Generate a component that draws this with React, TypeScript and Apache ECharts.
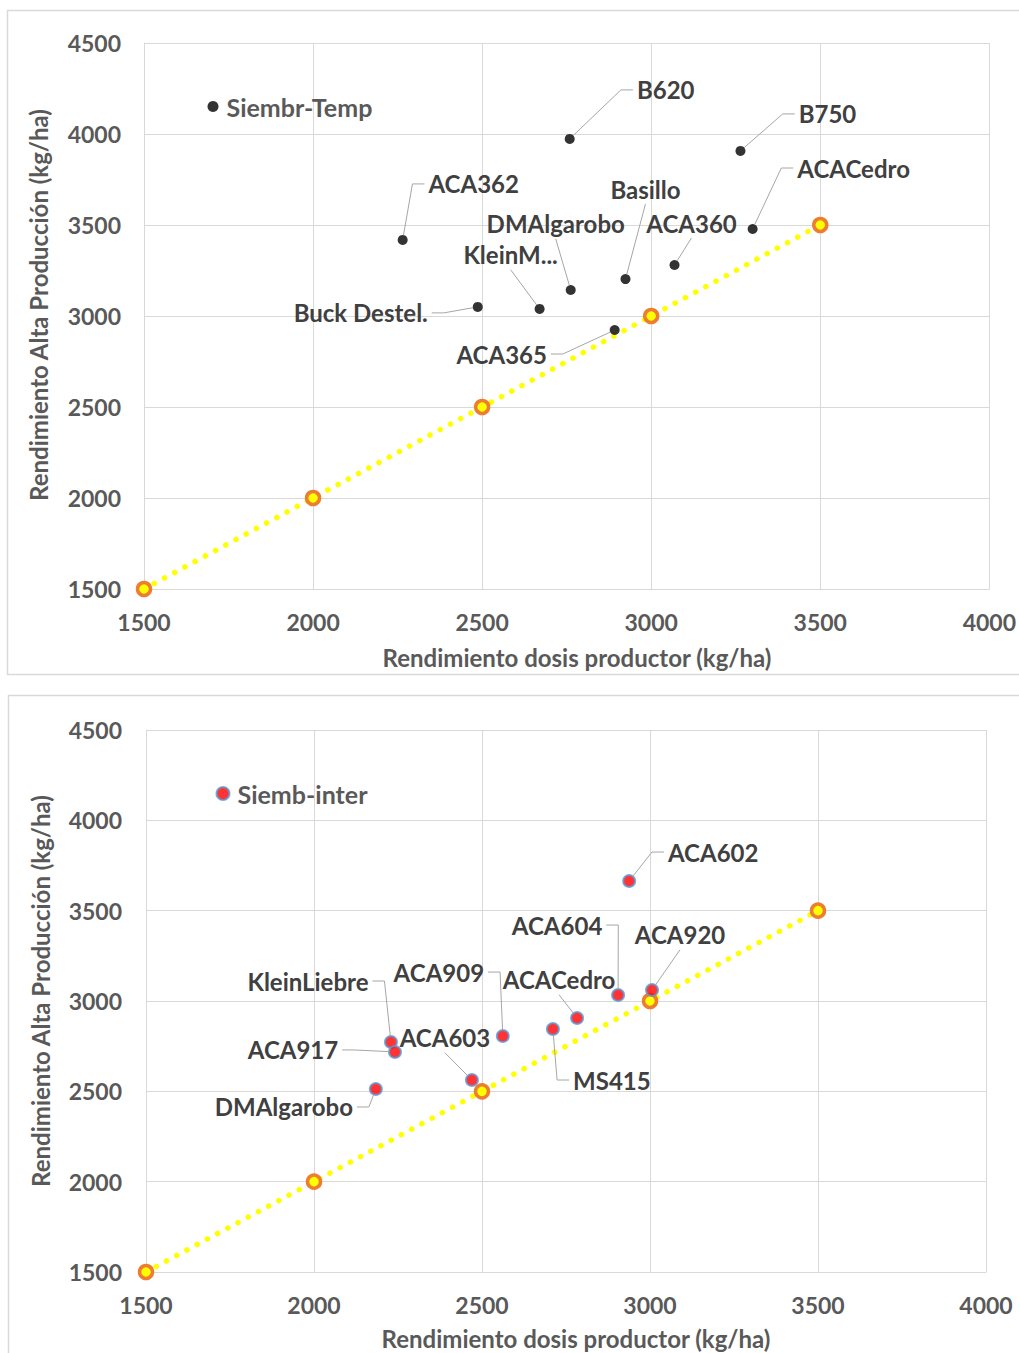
import React, { useEffect, useRef } from "react";
import * as echarts from "echarts";

// ---- data ----
const topNames = ["B620", "B750", "ACACedro", "ACA360", "Basillo", "DMAlgarobo", "KleinM...", "Buck Destel.", "ACA362", "ACA365"];
const topX = [2759, 3264, 3300, 3069, 2924, 2762, 2670, 2487, 2265, 2892];
const topY = [3973, 3907, 3478, 3280, 3203, 3143, 3039, 3050, 3418, 2923];

const botNames = ["ACA602", "ACA604", "ACA920", "ACACedro", "ACA909", "MS415", "ACA603", "KleinLiebre", "ACA917", "DMAlgarobo"];
const botX = [2938, 2905, 3006, 2783, 2562, 2711, 2470, 2229, 2241, 2184];
const botY = [3664, 3033, 3061, 2906, 2806, 2845, 2563, 2773, 2718, 2513];

const refValues = [1500, 2000, 2500, 3000, 3500];

const topSeriesName = "Siembr-Temp";
const botSeriesName = "Siemb-inter";
const xTitle = "Rendimiento dosis productor (kg/ha)";
const yTitle = "Rendimiento Alta Producción (kg/ha)";

// ---- label placement (offset of label centre from its point, px) ----
const topOffsets = [[96, -49], [87, -37], [101, -61], [17, -42], [20, -90], [-15, -66], [-29, -54], [-117, 6], [71, -56], [-113, 24]];
const botOffsets = [[84, -29], [-61, -70], [28, -55], [-18, -38], [-64, -64], [59, 51], [-27, -42], [-83, -61], [-102, -2], [-92, 18]];

const FONT = "Lato";
const GRID_COLOR = "#d9d9d9";
const TICK_COLOR = "#595959";
const LABEL_COLOR = "#404040";
const LABEL_SIZE = 24;

let measureCtx: CanvasRenderingContext2D | null = null;
function textWidth(t: string): number {
  if (!measureCtx) measureCtx = document.createElement("canvas").getContext("2d");
  if (!measureCtx) return t.length * LABEL_SIZE * 0.55;
  measureCtx.font = `bold ${LABEL_SIZE}px ${FONT}`;
  return measureCtx.measureText(t).width;
}

function labelRenderer(names: string[], offsets: number[][], r: number) {
  return (params: any, api: any) => {
    const i = params.dataIndex;
    const p = api.coord([api.value(0), api.value(1)]);
    const cx = p[0];
    const cy = p[1];
    const off = offsets[i] || [0, 0];
    const lx = cx + off[0];
    const ly = cy + off[1];
    const text = names[i];
    const w = textWidth(text);
    const h = LABEL_SIZE * 0.9;
    const left = lx - w / 2;
    const right = lx + w / 2;
    const top = ly - h / 2;
    const bottom = ly + h / 2;
    const toward = (tx: number, ty: number) => {
      const dx = tx - cx;
      const dy = ty - cy;
      const d = Math.sqrt(dx * dx + dy * dy) || 1;
      return [cx + (dx / d) * r, cy + (dy / d) * r];
    };
    let pts: number[][];
    if (left > cx + 4) {
      const e = [left - 16, ly];
      pts = [toward(e[0], e[1]), e, [left - 4, ly]];
    } else if (right < cx - 4) {
      const e = [right + 16, ly];
      pts = [toward(e[0], e[1]), e, [right + 4, ly]];
    } else if (ly < cy) {
      const e = [lx, bottom + 4];
      pts = [toward(e[0], e[1]), e];
    } else {
      const e = [lx, top - 4];
      pts = [toward(e[0], e[1]), e];
    }
    return {
      type: "group",
      children: [
        {
          type: "polyline",
          shape: { points: pts },
          style: { stroke: "#a6a6a6", lineWidth: 1, fill: "none" },
          silent: true,
        },
        {
          type: "text",
          x: lx,
          y: ly,
          style: {
            text,
            fill: LABEL_COLOR,
            fontSize: LABEL_SIZE,
            fontWeight: "bold",
            fontFamily: FONT,
            align: "center",
            verticalAlign: "middle",
          },
        },
      ],
    };
  };
}

function axisX(gridIndex: number) {
  return {
    type: "value",
    gridIndex,
    min: 1500,
    max: 4000,
    interval: 500,
    axisLine: { show: true, lineStyle: { color: GRID_COLOR, width: 1 } },
    axisTick: { show: false },
    splitLine: { show: true, showMaxLine: true, showMinLine: true, lineStyle: { color: GRID_COLOR, width: 1 } },
    axisLabel: { fontSize: 23, fontWeight: "bold", color: TICK_COLOR, fontFamily: FONT, margin: 21, formatter: (v: number) => String(v) },
  };
}

function axisY(gridIndex: number, margin: number) {
  return {
    type: "value",
    gridIndex,
    min: 1500,
    max: 4500,
    interval: 500,
    axisLine: { show: true, lineStyle: { color: GRID_COLOR, width: 1 } },
    axisTick: { show: false },
    splitLine: { show: true, showMaxLine: true, showMinLine: true, lineStyle: { color: GRID_COLOR, width: 1 } },
    axisLabel: { fontSize: 23, fontWeight: "bold", color: TICK_COLOR, fontFamily: FONT, margin, formatter: (v: number) => String(v) },
  };
}

function refSeries(idx: number) {
  return {
    type: "line",
    name: "ref" + idx,
    xAxisIndex: idx,
    yAxisIndex: idx,
    data: refValues.map((v) => [v, v]),
    symbol: "circle",
    symbolSize: 13,
    itemStyle: { color: "#ffff00", borderColor: "#ed7d31", borderWidth: 3.5 },
    lineStyle: { color: "#ffff00", width: 5.5, type: [0.1, 11.5], cap: "round" },
    z: 2,
    silent: true,
  };
}

function labelSeries(idx: number, xs: number[], ys: number[], names: string[], offsets: number[][], r: number) {
  return {
    type: "custom",
    name: "labels" + idx,
    coordinateSystem: "cartesian2d",
    xAxisIndex: idx,
    yAxisIndex: idx,
    data: xs.map((x, i) => [x, ys[i]]),
    encode: { x: 0, y: 1 },
    renderItem: labelRenderer(names, offsets, r),
    clip: false,
    silent: true,
    z: 4,
  };
}

const titleStyle = { fontSize: 24, fontWeight: "bold", fill: TICK_COLOR, fontFamily: FONT, align: "center", verticalAlign: "middle" };

export default function App() {
  const ref = useRef<HTMLDivElement>(null);
  useEffect(() => {
    if (!ref.current) return;
    const chart = echarts.init(ref.current, undefined, { renderer: "svg" });
    const legendText = { fontSize: 25, fontWeight: "bold", color: TICK_COLOR, fontFamily: FONT, padding: [0, 0, 0, 3] };
    const option: any = {
      animation: false,
      backgroundColor: "#ffffff",
      textStyle: { fontFamily: FONT },
      grid: [
        { left: 144, top: 43, width: 846, height: 546 },
        { left: 146, top: 730, width: 840, height: 542 },
      ],
      xAxis: [axisX(0), axisX(1)],
      yAxis: [axisY(0, 23), axisY(1, 24)],
      legend: [
        {
          data: [topSeriesName],
          left: 207.5,
          top: 94,
          padding: 0,
          icon: "circle",
          itemWidth: 11,
          itemHeight: 11,
          textStyle: legendText,
        },
        {
          data: [botSeriesName],
          left: 215.5,
          top: 781,
          padding: 0,
          icon: "circle",
          itemWidth: 13,
          itemHeight: 13,
          textStyle: legendText,
        },
      ],
      series: [
        refSeries(0),
        {
          type: "scatter",
          name: topSeriesName,
          xAxisIndex: 0,
          yAxisIndex: 0,
          data: topX.map((x, i) => [x, topY[i]]),
          symbol: "circle",
          symbolSize: 10,
          itemStyle: { color: "#000000" },
          z: 3,
        },
        labelSeries(0, topX, topY, topNames, topOffsets, 5),
        refSeries(1),
        {
          type: "scatter",
          name: botSeriesName,
          xAxisIndex: 1,
          yAxisIndex: 1,
          data: botX.map((x, i) => [x, botY[i]]),
          symbol: "circle",
          symbolSize: 12,
          itemStyle: { color: "#ff0000", borderColor: "#5b9bd5", borderWidth: 2 },
          z: 3,
        },
        labelSeries(1, botX, botY, botNames, botOffsets, 6),
      ],
      graphic: [
        {
          type: "rect",
          shape: { x: 7.5, y: 10.5, width: 1100, height: 664 },
          style: { fill: "none", stroke: GRID_COLOR, lineWidth: 1.5 },
          silent: true,
        },
        {
          type: "rect",
          shape: { x: 8.5, y: 695.5, width: 1100, height: 700 },
          style: { fill: "none", stroke: GRID_COLOR, lineWidth: 1.5 },
          silent: true,
        },
        { type: "text", x: 577, y: 657, style: { text: xTitle, ...titleStyle } },
        { type: "text", x: 38, y: 305, rotation: Math.PI / 2, style: { text: yTitle, ...titleStyle } },
        { type: "text", x: 576, y: 1338, style: { text: xTitle, ...titleStyle } },
        { type: "text", x: 40, y: 991, rotation: Math.PI / 2, style: { text: yTitle, ...titleStyle } },
      ],
    };
    chart.setOption(option);
    return () => chart.dispose();
  }, []);
  return (
    <div
      ref={ref}
      style={{ position: "absolute", left: 0, top: 0, width: 1019, height: 1353, background: "#fff" }}
    />
  );
}
